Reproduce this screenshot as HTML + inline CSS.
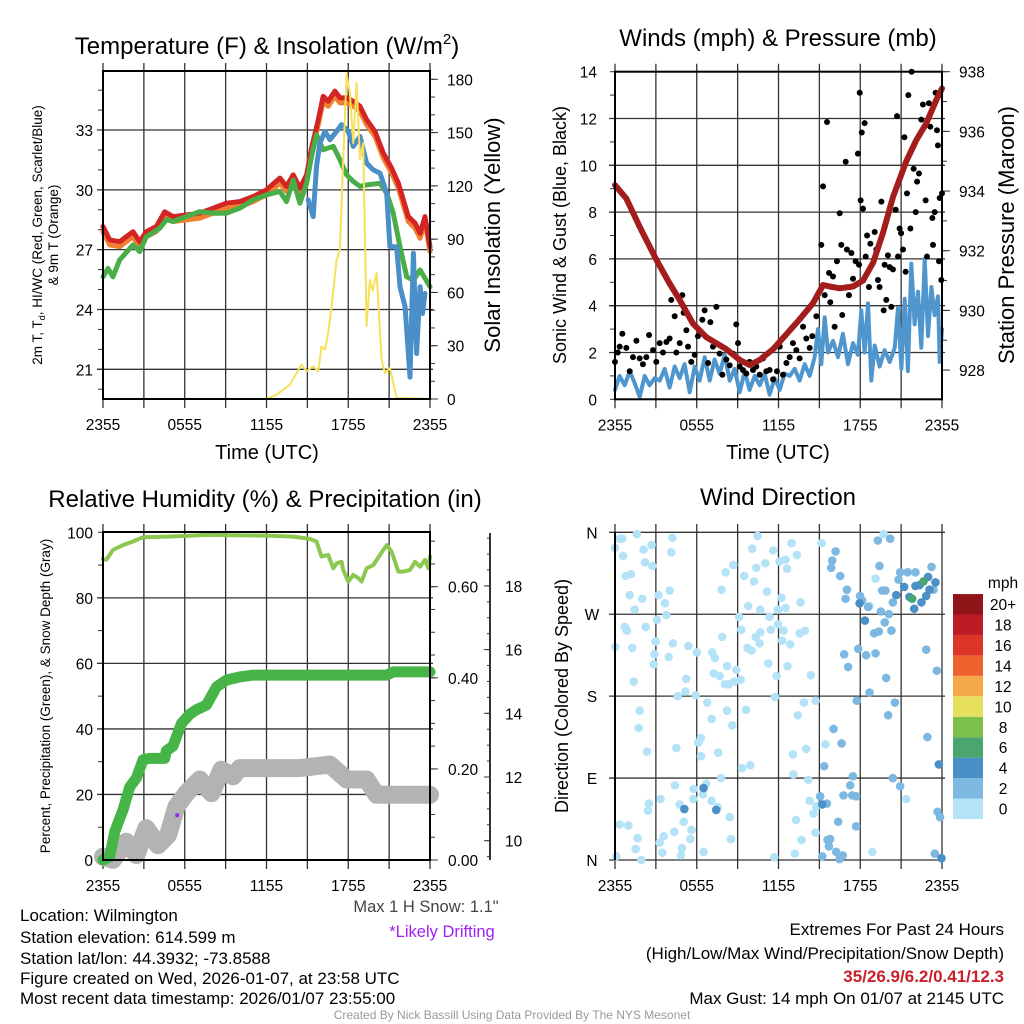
<!DOCTYPE html>
<html><head><meta charset="utf-8">
<style>
html,body{margin:0;padding:0;background:#fff;}
svg{display:block;font-family:"Liberation Sans",sans-serif;}
</style></head>
<body>
<svg id="c" width="1024" height="1024" viewBox="0 0 1024 1024" xmlns="http://www.w3.org/2000/svg">
<rect width="1024" height="1024" fill="#fff"/>
<g id="g"></g>
<text x="267" y="54" font-size="24" text-anchor="middle">Temperature (F) &amp; Insolation (W/m<tspan font-size="15" dy="-10">2</tspan><tspan dy="10">)</tspan></text>
<text x="778" y="46" font-size="24" text-anchor="middle">Winds (mph) &amp; Pressure (mb)</text>
<text x="265" y="507" font-size="24" text-anchor="middle">Relative Humidity (%) &amp; Precipitation (in)</text>
<text x="778" y="505" font-size="24" text-anchor="middle">Wind Direction</text>
<text x="267" y="459" font-size="20" text-anchor="middle">Time (UTC)</text>
<text x="778" y="459" font-size="20" text-anchor="middle">Time (UTC)</text>
<text transform="translate(42,235) rotate(-90)" font-size="13.5" text-anchor="middle">2m T, T<tspan font-size="9" dy="3">d</tspan><tspan dy="-3">, HI/WC (Red, Green, Scarlet/Blue)</tspan></text>
<text transform="translate(58,235) rotate(-90)" font-size="13.5" text-anchor="middle">&amp; 9m T (Orange)</text>
<text transform="translate(500,235) rotate(-90)" font-size="22" text-anchor="middle">Solar Insolation (Yellow)</text>
<text transform="translate(566,235) rotate(-90)" font-size="18" text-anchor="middle">Sonic Wind &amp; Gust (Blue, Black)</text>
<text transform="translate(1014,235) rotate(-90)" font-size="22" text-anchor="middle">Station Pressure (Maroon)</text>
<text transform="translate(50,696) rotate(-90)" font-size="13.5" text-anchor="middle">Percent, Precipitation (Green), &amp; Snow Depth (Gray)</text>
<text transform="translate(568,696) rotate(-90)" font-size="18" text-anchor="middle">Direction (Colored By Speed)</text>
<g font-size="17">
<text x="20" y="921">Location: Wilmington</text>
<text x="20" y="943">Station elevation: 614.599 m</text>
<text x="20" y="964">Station lat/lon: 44.3932; -73.8588</text>
<text x="20" y="984">Figure created on Wed, 2026-01-07, at 23:58 UTC</text>
<text x="20" y="1004">Most recent data timestamp: 2026/01/07 23:55:00</text>
</g>
<text x="426" y="912" font-size="16.5" fill="#444" text-anchor="middle">Max 1 H Snow: 1.1"</text>
<text x="442" y="937" font-size="16.5" fill="#a020f0" text-anchor="middle">*Likely Drifting</text>
<g font-size="17" text-anchor="end">
<text x="1004" y="935">Extremes For Past 24 Hours</text>
<text x="1004" y="959">(High/Low/Max Wind/Precipitation/Snow Depth)</text>
<text x="1004" y="982" fill="#c8202a" font-weight="bold">35/26.9/6.2/0.41/12.3</text>
<text x="1004" y="1004">Max Gust: 14 mph On 01/07 at 2145 UTC</text>
</g>
<text x="512" y="1019" font-size="12" fill="#999" text-anchor="middle">Created By Nick Bassill Using Data Provided By The NYS Mesonet</text>
</svg>
<script>
// ---------- DATA ----------
const timeTicks=["2355","0555","1155","1755","2355"];
const tempTicks=[21,24,27,30,33];
const solarTicks=[0,30,60,90,120,150,180];
const redH=[0,0.49,1.22,2.2,2.69,3.18,3.92,4.53,5.14,6.12,7.1,8.08,9.06,10.04,11.02,12,12.98,13.47,13.96,14.45,14.94,15.31,15.8,16.16,16.53,17.02,17.39,17.88,18.37,18.86,19.35,19.96,20.57,21.18,21.67,22.04,22.41,22.9,23.27,23.63,24];
const redT=[28.16,27.49,27.4,27.9,27.4,27.9,28.16,28.9,28.66,28.74,28.83,29.08,29.33,29.41,29.66,30.0,30.59,30.17,30.75,30.08,30.75,32.1,33.52,34.69,34.44,34.95,34.61,34.61,34.44,34.19,33.52,32.93,31.84,31.09,30.34,29.5,28.66,28.33,27.82,28.66,27.15];
const grnH=[0,0.37,0.73,1.22,2.2,2.69,3.18,4.16,4.65,5.14,6.12,7.1,8.08,9.06,10.04,11.02,12,12.98,13.47,13.96,14.45,14.94,15.31,15.67,16.16,16.9,17.39,17.88,18.37,18.86,19.35,20.33,20.82,21.31,21.8,22.29,22.78,23.27,24];
const grnT=[25.64,26.06,25.64,26.48,27.24,26.9,27.65,28.07,28.5,28.41,28.66,28.91,28.83,28.83,29.08,29.5,29.75,29.92,29.41,30.5,29.33,30.33,31.68,32.77,32.01,32.18,31.51,30.75,30.42,30.17,30.25,30.33,29.83,28.83,27.15,25.64,25.47,25.98,25.14];
const bluH=[15.06,15.43,15.67,15.92,16.29,16.65,17.14,17.51,18.0,18.37,18.86,19.35,19.84,20.33,20.82,21.06,21.55,21.8,22.17,22.53,22.78,23.02,23.27,23.45,23.63];
const bluT=[29.5,28.66,31.17,32.35,32.93,32.51,32.93,33.27,32.93,32.18,32.68,31.34,31.0,30.84,29.83,27.15,27.15,25.14,24.13,20.61,26.82,21.79,25.14,23.8,24.8];
const solH=[0,12,12.73,13.71,14.2,14.57,14.94,15.43,15.8,16.04,16.29,16.53,16.78,17.14,17.39,17.63,17.88,18.12,18.37,18.61,18.86,19.1,19.35,19.59,19.79,20.08,20.45,20.69,21.06,21.55,24];
const solW=[0,0,2.4,8,14.6,19.3,15.6,18.4,15.6,29.6,27.8,37,52,78,84,135,183,172,144,178,135,144,41,67,61,71,22,14.6,17.4,0.6,0];
const windTicks=[0,2,4,6,8,10,12,14];
const presTicks=[928,930,932,934,936,938];
const presH=[0,0.83,1.81,3.03,4.01,4.75,5.72,6.7,8.17,9.15,9.88,10.62,11.6,12.58,13.55,14.53,15.27,15.76,16.49,17.47,18.2,18.94,19.67,20.4,21.38,22.11,22.85,23.58,24];
const presMb=[934.2,933.75,932.8,931.7,930.9,930.35,929.56,929.1,928.7,928.34,928.17,928.34,928.7,929.2,929.7,930.24,930.85,930.8,930.74,930.8,931.0,931.6,932.6,933.8,935.0,935.7,936.27,937.05,937.44];
const spdH=[0,0.34,0.71,1.08,1.44,1.81,2.18,2.54,2.91,3.28,3.65,4.01,4.38,4.75,5.11,5.48,5.85,6.21,6.58,6.95,7.31,7.68,8.05,8.42,8.78,9.15,9.52,9.88,10.25,10.62,10.98,11.35,11.72,12.09,12.45,12.82,13.19,13.55,13.92,14.29,14.65,14.9,15.14,15.39,15.63,16.0,16.37,16.73,17.1,17.47,17.83,18.08,18.32,18.57,18.81,19.06,19.42,19.79,20.16,20.53,20.77,21.02,21.26,21.5,21.75,21.99,22.24,22.48,22.73,22.97,23.22,23.46,23.71,23.83,24];
const spdV=[0.4,1.0,0.6,1.2,0.7,0.1,1.0,0.6,0.9,0.8,1.3,0.5,1.4,0.9,1.5,0.3,1.4,0.8,1.8,0.8,1.7,1.1,1.9,0.8,1.3,0.3,1.2,0.4,1.0,0.6,1.1,0.2,0.9,0.4,1.1,1.0,1.3,0.8,1.5,1.0,1.8,3.0,1.5,3.5,2.0,2.5,1.8,2.8,1.5,2.4,1.9,3.8,2.0,4.1,0.8,2.3,1.4,2.1,1.6,2.2,3.9,1.3,4.3,1.2,5.8,3.2,4.6,2.2,6.0,2.7,4.8,3.6,4.4,1.6,3.0];
const gustH=[0,0.2,0.34,0.54,0.83,1.08,1.32,1.57,1.81,2.05,2.3,2.5,2.79,3.03,3.28,3.52,3.77,4.01,4.13,4.38,4.5,4.75,4.94,5.04,5.24,5.36,5.6,5.85,6.09,6.41,6.58,6.83,7.0,7.19,7.44,7.68,7.88,8.17,8.42,8.66,8.9,9.03,9.15,9.39,9.64,9.88,10.13,10.37,10.62,10.86,11.11,11.35,11.6,11.89,12.09,12.33,12.58,12.82,13.06,13.31,13.55,13.8,14.04,14.29,14.48,14.78,15.14,15.27,15.39,15.56,15.71,15.8,16.0,16.12,16.29,16.49,16.61,16.68,16.93,17.02,17.17,17.35,17.47,17.66,17.83,17.91,17.96,18.03,18.11,18.2,18.32,18.4,18.5,18.64,18.74,19.06,19.18,19.3,19.42,19.55,19.72,19.79,19.91,20.03,20.16,20.28,20.4,20.6,20.7,20.77,20.89,21.0,21.14,21.24,21.33,21.43,21.53,21.68,21.77,21.92,22.07,22.17,22.31,22.48,22.6,22.8,22.9,23.04,23.14,23.29,23.34,23.46,23.53,23.63,23.7,23.78,23.83,23.95,24];
const gustV=[1.6,2.0,2.25,2.8,2.2,1.2,1.8,2.5,1.75,1.5,1.8,2.75,2.1,1.6,2.4,2.0,2.45,2.6,4.25,3.55,2.0,2.4,4.45,3.7,2.95,2.25,1.6,1.9,2.7,3.4,3.8,1.55,3.3,2.25,3.95,1.95,1.05,1.7,1.45,1.95,3.2,2.4,1.4,1.25,1.1,1.6,1.25,1.4,1.05,1.75,1.2,1.25,0.85,1.2,2.25,1.05,1.55,1.8,2.4,2.1,1.75,3.1,2.6,2.2,2.7,3.55,6.6,9.1,4.45,11.85,5.4,4.15,5.25,3.1,5.9,7.95,6.6,3.6,10.15,6.4,4.45,6.25,5.15,5.9,10.5,5.75,13.1,8.5,11.4,8.15,11.8,6.1,7.0,4.8,6.65,7.15,6.4,5.1,4.8,8.45,3.8,5.75,4.25,6.15,5.65,3.95,5.55,8.1,12.1,6.1,7.3,7.1,6.4,11.2,5.45,8.8,13.0,7.3,14.0,9.85,8.0,9.3,9.65,11.95,12.6,8.5,6.1,12.65,11.65,7.75,6.6,8.0,13.1,11.5,10.85,5.9,8.6,5.1,8.8];
const rhTicks=[0,20,40,60,80,100];
const precipTicks=["0.00","0.20","0.40","0.60"];
const snowTicks=[10,12,14,16,18];
const rhH=[0,0.24,0.73,1.47,2.2,2.94,4.65,6.12,7.59,12,13.96,15.18,15.67,16.04,16.53,16.9,17.14,17.51,17.63,18,18.37,18.74,18.98,19.35,19.84,20.33,20.82,21.18,21.67,22.04,22.53,22.9,23.27,23.63,23.88,24];
const rhV=[91.8,91.6,94.6,96.1,97.2,98.5,98.7,98.9,99.2,99,98.7,98,97.2,92.6,93.1,89,90.5,91,88.5,85,87,86,85,89,90,93.1,96.1,94.1,88,88,88.5,91,89.5,91.6,89,92.6];
const prH=[0,0.49,0.86,1.47,1.96,2.45,2.94,3.43,4.53,4.65,5.14,5.76,6.37,6.86,7.59,8.33,9.06,10.04,11.02,20.82,21.31,24];
const prV=[0,0.007,0.062,0.11,0.16,0.18,0.22,0.223,0.223,0.24,0.25,0.30,0.32,0.33,0.34,0.38,0.395,0.402,0.406,0.406,0.413,0.413];
const snH=[0,0.73,1.71,2.45,3.18,4.04,4.78,5.39,6.12,7.1,7.96,8.69,9.55,10.04,14.45,16.65,17.63,17.88,19.35,20.08,24];
const snV=[9.5,9.4,9.97,9.55,10.39,9.86,10.18,11.07,11.49,11.92,11.49,12.23,12.02,12.28,12.28,12.39,12.02,11.92,11.92,11.44,11.44];
const driftH=[5.44]; const driftV=[10.8];
const dirLabels=["N","E","S","W","N"];
const speedBins=["0","2","4","6","8","10","12","14","16","18","20+"];
const binColors=["#b4e3f8","#7db8e2","#4a8fc6","#4aa56e","#7ac04a","#e6e05c","#f5a84a","#ee612e","#dc3428","#bb1c25","#8f1519"];
const dirH=[0,0.34,0.54,1.61,0.59,2.1,2.69,4.21,4.13,2.2,2.74,0.78,1.17,1.08,2.0,1.44,3.2,3.67,4.01,3.77,3.08,0.71,0.88,2.25,0.02,1.27,2.98,2.89,2.84,3.94,4.25,1.37,1.81,1.74,2.35,4.5,4.6,5.16,5.23,5.38,6.01,5.92,6.77,7.14,7.33,7.24,7.68,7.87,8.07,8.36,8.75,8.22,8.9,9.22,8.22,8.61,7.09,9.61,6.31,6.11,6.31,7.58,9.32,9.93,7.78,4.4,5.77,5.75,6.45,6.7,7.09,7.53,8.41,8.51,5.04,5.62,4.35,4.74,3.57,3.28,3.47,4.91,4.84,5.53,6.5,3.35,2.49,2.42,0.34,0.98,1.66,1.52,1.93,0.1,7.82,8.12,8.68,9.49,10.2,10.37,11.03,10.07,10.46,11.61,12.08,12.52,12.62,12.96,13.35,11.15,12.22,11.96,12.52,13.62,10.66,9.78,9.1,9.27,11.34,11.96,12.37,11.44,10.66,10.32,10.61,9.73,10.02,12.27,12.86,13.55,13.94,11.25,12.66,11.86,14.38,11.74,13.86,13.42,14.72,14.03,13.06,15.45,13.1,14.18,14.28,13.28,13.69,14.72,13.2,11.69,15.16,18.68,19.12,19.71,18.88,21.37,14.57,14.77,
16.19,15.94,15.87,16.53,17.02,16.92,17.99,18.14,18.58,19.41,19.29,20.2,19.61,19.85,19.51,20.1,19.8,20.29,19.02,19.36,20.39,20.93,20.81,21.47,22.05,23.23,23.37,16.82,17.11,17.85,18.43,19.12,19.9,18.68,17.75,20.54,20.05,22.93,22.84,23.62,16.04,16.63,15.35,17.46,17.26,16.77,17.41,17.7,15.55,16.38,17.7,15.6,15.79,15.7,16.23,16.72,15.21,16.48,20.39,20.93,23.67,23.86,23.47,15.06,
20.64,21.22,21.61,22.05,22.35,22.49,22.84,23.08,22.98,23.52,21.96,17.95,18.34,6.5,5.09,7.43,23.77,23.96,15.21,21.81,22.64];
const dirDeg=[343,353,353,358,334,341,346,354,338,327,323,312,314,291,287,275,291,282,296,269,264,256,252,256,234,233,240,226,215,223,238,196,164,145,119,123,180,185,199,235,228,181,173,228,222,205,202,245,193,193,196,213,209,198,164,148,155,165,134,129,114,118,101,104,90,82,78,67,72,84,65,58,47,23,42,33,31,61,26,19,8,13,5,23,9,67,62,54,39,38,24,12,0,4,297,316,324,312,306,321,326,342,356,340,328,330,320,348,335,295,288,275,277,283,275,279,267,253,267,259,252,253,250,245,238,233,230,241,237,249,252,216,213,202,203,179,173,159,175,122,116,127,94,88,65,44,22,30,7,3,348,279,309,358,9,67,51,59,
339,329,321,312,297,287,290,285,278,323,351,353,296,296,273,270,261,252,249,251,283,316,308,316,316,322,297,226,212,232,225,227,200,184,175,173,159,135,231,208,144,128,103,92,82,71,71,70,62,42,37,22,23,15,9,5,4,1,90,81,53,47,7,70,
291,300,289,301,302,283,290,297,311,305,276,282,263,79,56,55,105,2,61,287,306];
const dirSpd=[].concat(Array(158).fill(1),Array(64).fill(3),Array(19).fill(5),[7,7]);

// ---------- RENDER ----------
const NS="http://www.w3.org/2000/svg";
const G=document.getElementById('g');
function mk(tag,attrs,parent){const e=document.createElementNS(NS,tag);for(const k in attrs)e.setAttribute(k,attrs[k]);(parent||G).appendChild(e);return e;}
function lin(d0,d1,r0,r1){return v=>r0+(v-d0)/(d1-d0)*(r1-r0);}
function pathD(xs,ys,fx,fy){return xs.map((x,i)=>(i?'L':'M')+fx(x).toFixed(1)+','+fy(ys[i]).toFixed(1)).join('');}

function frame(p,name){
  for(let h=0;h<=24;h+=3){const x=p.fx(h);
    const l=mk('line',{x1:x,x2:x,y1:p.y0-8,y2:p.y1+9,stroke:'#333','stroke-width':1.3});
    
    }
  timeTicks.forEach((t,i)=>{const tx=mk('text',{x:p.fx(i*6),y:p.y1+31,'font-size':15.5,'text-anchor':'middle'});tx.textContent=t;
    
    });
}
function hgrid(p,fy,vals,name){vals.forEach(v=>{const y=fy(v);
  const l=mk('line',{x1:p.x0-6,x2:p.x1+3,y1:y,y2:y,stroke:'#333','stroke-width':1.3});
  
  });}
function border(p,name){const r=mk('rect',{x:p.x0,y:p.y0,width:p.x1-p.x0,height:p.y1-p.y0,fill:'none',stroke:'#000','stroke-width':2});
  
  }
function label(x,y,t,anchor,name,size){const e=mk('text',{x:x,y:y,'font-size':size||15.5,'text-anchor':anchor});e.textContent=t;
  
  return e;}
function ticks(x,fy,from,to,step,len,name){for(let v=from;v<=to+1e-9;v+=step){const y=fy(v);
  const l=mk('line',{x1:x,x2:x+len,y1:y,y2:y,stroke:'#333','stroke-width':1});
  
  }}
function line(xs,ys,fx,fy,color,w,name){const e=mk('path',{d:pathD(xs,ys,fx,fy),fill:'none',stroke:color,'stroke-width':w,'stroke-linejoin':'round','stroke-linecap':'round'});
  
  return e;}

// Panel 1: temperature
const p1={x0:103,x1:430,y0:71,y1:399};p1.fx=lin(0,24,p1.x0,p1.x1);
const fT=lin(19.51,35.96,399,71), fS=lin(0,180,399,79.3);
frame(p1,'temp');hgrid(p1,fT,tempTicks,'temp');
ticks(98,fT,20,35,1,5,'temp-minor-tick');
tempTicks.forEach(v=>label(93,fT(v)+6,String(v),'end','temp-y-tick-label'));
ticks(430,fS,0,180,10,5,'solar-minor-tick');ticks(430,fS,0,180,30,8,'solar-major-tick');
solarTicks.forEach(v=>label(447,fS(v)+6,String(v),'start','solar-y-tick-label'));
line(redH,redT.map(v=>v-0.25),p1.fx,fT,'#f08030',5,'orange-9m-temp-line');
line(redH,redT,p1.fx,fT,'#d42525',5,'red-temp-line');
line(grnH,grnT,p1.fx,fT,'#4aae48',5,'green-dewpoint-line');
line(bluH,bluT,p1.fx,fT,'#4a8fc8',5,'blue-windchill-line');
line(solH,solW,p1.fx,fS,'#f8e05a',2,'yellow-solar-line');
border(p1,'temp');

// Panel 2: winds
const p2={x0:615,x1:942,y0:71.7,y1:399.3};p2.fx=lin(0,24,p2.x0,p2.x1);
const fW=lin(0,14,399.3,71.7), fP=lin(927.02,938,399.3,71.7);
frame(p2,'wind');hgrid(p2,fW,windTicks.slice(1,-1),'wind');
ticks(610,fW,0,14,1,5,'wind-minor-tick');
windTicks.forEach(v=>label(597,fW(v)+6,String(v),'end','wind-y-tick-label'));
ticks(942,fP,928,938,1,5,'pressure-minor-tick');ticks(942,fP,928,938,2,8,'pressure-major-tick');
presTicks.forEach(v=>label(959,fP(v)+6,String(v),'start','pressure-y-tick-label'));
line(spdH,spdV,p2.fx,fW,'#4f96cf',4,'sonic-wind-line');
gustH.forEach((h,i)=>{const c=mk('circle',{cx:p2.fx(h),cy:fW(gustV[i]),r:3,fill:'#000'});
  
  });
line(presH,presMb,p2.fx,fP,'#a31d1d',6,'pressure-line');
border(p2,'wind');

// Panel 3: humidity
const p3={x0:103,x1:430,y0:532,y1:860};p3.fx=lin(0,24,p3.x0,p3.x1);
const fR=lin(0,100,860,532.3), fPr=lin(0,0.6,860,586.7), fSn=lin(10,12,840.7,777);
frame(p3,'rh');hgrid(p3,fR,rhTicks.slice(1,-1),'rh');
ticks(98,fR,0,100,10,5,'rh-minor-tick');
rhTicks.forEach(v=>label(93,fR(v)+6,String(v),'end','rh-y-tick-label'));
ticks(430,fPr,0,0.7,0.05,5,'precip-minor-tick');ticks(430,fPr,0,0.6,0.2,8,'precip-major-tick');
precipTicks.forEach(v=>label(448,fPr(parseFloat(v))+6,v,'start','precip-y-tick-label'));
{const a=mk('line',{x1:490,x2:490,y1:533,y2:860,stroke:'#333','stroke-width':2});
 
 }
ticks(487,fSn,9.5,19.5,0.5,3,'snow-minor-tick');ticks(484,fSn,10,18,2,6,'snow-major-tick');
snowTicks.forEach(v=>label(505,fSn(v)+6,String(v),'start','snow-y-tick-label'));
line(snH,snV,p3.fx,fSn,'#b3b3b3',18,'snow-depth-line');
line(prH,prV,p3.fx,fPr,'#46b446',11,'precip-line');
line(rhH,rhV,p3.fx,fR,'#8cc850',4,'rh-line');
driftH.forEach((h,i)=>{const c=mk('circle',{cx:p3.fx(h),cy:fSn(driftV[i]),r:2,fill:'#a020f0'});
  
  });
border(p3,'rh');

// Panel 4: wind direction
const p4={x0:615,x1:942,y0:532,y1:860};p4.fx=lin(0,24,p4.x0,p4.x1);
const fD=lin(0,360,860,532.3);
frame(p4,'dir');hgrid(p4,fD,[0,90,180,270,360],'dir');
dirLabels.forEach((t,i)=>label(592,fD(i*90)+6,t,'middle','dir-y-tick-label'));
dirH.forEach((h,i)=>{const b=Math.min(10,Math.floor(dirSpd[i]/2));
  const c=mk('circle',{cx:p4.fx(h),cy:fD(dirDeg[i]),r:4.3,fill:binColors[b]});
  
  });
{const f=mk('line',{x1:615,x2:615,y1:532,y2:860,stroke:'#000','stroke-width':2});
 
 }
label(1003,588,'mph','middle','colorbar-title');
speedBins.forEach((t,i)=>{const y=819-(i+1)*20.45;
  const r=mk('rect',{x:953,y:y,width:30,height:20.45,fill:binColors[i]});
  
  
  label(1003,y+16,t,'middle','colorbar-label');});
</script>
</body></html>
